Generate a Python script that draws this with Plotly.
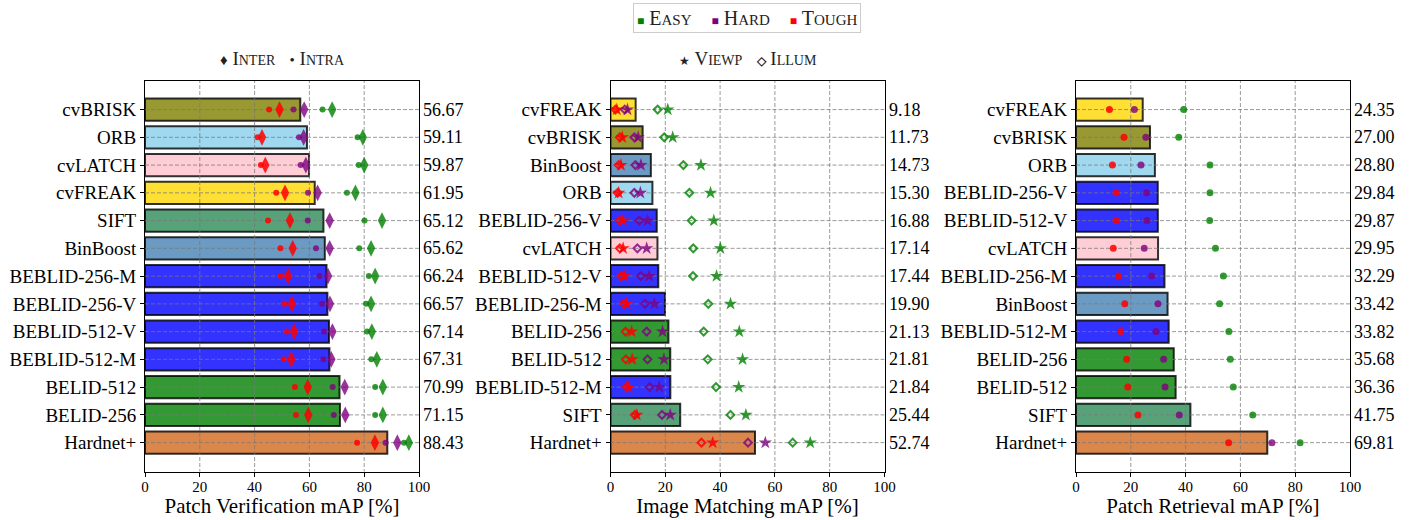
import plotly.graph_objects as go

FONT = "Liberation Serif"

# ---------------- Patch Verification (top to bottom) ----------------
pv_names = ["cvBRISK", "ORB", "cvLATCH", "cvFREAK", "SIFT", "BinBoost", "BEBLID-256-M",
            "BEBLID-256-V", "BEBLID-512-V", "BEBLID-512-M", "BELID-512", "BELID-256", "Hardnet+"]
pv_mean = [56.67, 59.11, 59.87, 61.95, 65.12, 65.62, 66.24, 66.57, 67.14, 67.31, 70.99, 71.15, 88.43]
pv_easy_inter = [68.3, 79.5, 80.0, 76.8, 86.5, 82.5, 84.0, 82.5, 82.8, 84.6, 86.8, 86.8, 96.3]
pv_easy_intra = [64.8, 77.6, 78.0, 73.7, 80.1, 78.2, 81.7, 80.7, 81.0, 82.6, 84.0, 84.0, 94.5]
pv_hard_inter = [58.1, 57.9, 58.7, 63.0, 67.4, 67.4, 66.8, 67.5, 68.4, 68.0, 72.9, 73.1, 92.1]
pv_hard_intra = [54.2, 56.2, 56.8, 59.5, 59.4, 62.4, 63.7, 64.6, 65.3, 65.1, 68.5, 68.9, 87.8]
pv_tough_inter = [49.1, 42.7, 43.9, 51.1, 52.9, 53.9, 52.2, 53.6, 54.4, 53.4, 59.4, 59.6, 83.9]
pv_tough_intra = [45.3, 41.1, 42.3, 47.9, 44.9, 49.4, 49.5, 50.8, 51.8, 50.6, 54.7, 55.1, 77.4]

# ---------------- Image Matching ----------------
im_names = ["cvFREAK", "cvBRISK", "BinBoost", "ORB", "BEBLID-256-V", "cvLATCH", "BEBLID-512-V",
            "BEBLID-256-M", "BELID-256", "BELID-512", "BEBLID-512-M", "SIFT", "Hardnet+"]
im_mean = [9.18, 11.73, 14.73, 15.30, 16.88, 17.14, 17.44, 19.90, 21.13, 21.81, 21.84, 25.44, 52.74]
im_easy_viewp = [20.9, 22.7, 33.0, 36.5, 37.7, 40.1, 38.7, 43.8, 47.0, 48.2, 46.8, 49.4, 72.9]
im_easy_illum = [17.2, 19.6, 26.6, 28.8, 29.6, 30.2, 30.1, 35.7, 34.0, 35.5, 38.5, 43.8, 66.5]
im_hard_viewp = [6.2, 10.1, 11.1, 10.9, 13.5, 13.2, 14.1, 16.0, 19.0, 19.5, 17.8, 21.8, 56.5]
im_hard_illum = [5.2, 8.7, 9.1, 8.7, 10.5, 9.8, 11.0, 12.6, 13.2, 13.5, 14.3, 18.8, 50.2]
im_tough_viewp = [2.3, 4.3, 3.8, 3.0, 4.6, 4.6, 5.0, 5.9, 7.7, 7.9, 6.7, 9.6, 37.3]
im_tough_illum = [1.8, 3.4, 3.0, 2.6, 3.4, 3.4, 4.0, 4.9, 5.5, 5.6, 5.9, 8.9, 33.2]

# ---------------- Patch Retrieval ----------------
pr_names = ["cvFREAK", "cvBRISK", "ORB", "BEBLID-256-V", "BEBLID-512-V", "cvLATCH", "BEBLID-256-M",
            "BinBoost", "BEBLID-512-M", "BELID-256", "BELID-512", "SIFT", "Hardnet+"]
pr_mean = [24.35, 27.00, 28.80, 29.84, 29.87, 29.95, 32.29, 33.42, 33.82, 35.68, 36.36, 41.75, 69.81]
pr_easy = [39.3, 37.5, 48.9, 48.9, 48.8, 50.9, 53.8, 52.4, 55.8, 56.3, 57.4, 64.5, 81.8]
pr_hard = [21.3, 25.5, 23.7, 25.8, 25.9, 24.9, 27.6, 29.9, 29.2, 32.0, 32.5, 37.7, 71.5]
pr_tough = [12.2, 17.5, 13.3, 14.6, 14.6, 13.6, 15.5, 17.8, 16.3, 18.5, 18.9, 22.6, 55.7]

x_ticks = [0, 20, 40, 60, 80, 100]

# ---------------- styles ----------------
desc_color = {
    "cvBRISK": "rgba(128,128,0,0.8)",
    "ORB": "rgba(135,206,235,0.8)",
    "cvLATCH": "rgba(255,192,203,0.8)",
    "cvFREAK": "rgba(255,215,0,0.8)",
    "SIFT": "rgba(46,139,87,0.8)",
    "BinBoost": "rgba(70,130,180,0.8)",
    "BEBLID-256-M": "rgba(0,0,255,0.8)",
    "BEBLID-256-V": "rgba(0,0,255,0.8)",
    "BEBLID-512-V": "rgba(0,0,255,0.8)",
    "BEBLID-512-M": "rgba(0,0,255,0.8)",
    "BELID-512": "rgba(0,128,0,0.8)",
    "BELID-256": "rgba(0,128,0,0.8)",
    "Hardnet+": "rgba(210,105,30,0.8)",
}
C_EASY = "rgba(0,128,0,0.8)"
C_HARD = "rgba(128,0,128,0.8)"
C_TOUGH = "rgba(255,0,0,0.85)"
GRID = "rgba(120,120,120,0.75)"
DASH = "4px,2px"

W, H = 1413, 520
y_top, y_bot = 1 - 80.7 / H, 1 - 471.5 / H
domains = [(145 / W, 419 / W), (610.5 / W, 884.5 / W), (1076 / W, 1350 / W)]
titles = ["Patch Verification mAP [%]", "Image Matching mAP [%]", "Patch Retrieval mAP [%]"]

fig = go.Figure()


def add_panel(k, names, means, marker_sets):
    xa = "x" if k == 1 else f"x{k}"
    ya = "y" if k == 1 else f"y{k}"
    n = len(names)
    pos = list(range(n))
    # bars
    fig.add_trace(go.Bar(
        x=means, y=pos, orientation="h", width=0.8,
        marker=dict(color=[desc_color[nm] for nm in names],
                    line=dict(color="rgba(0,0,0,0.8)", width=2)),
        xaxis=xa, yaxis=ya, showlegend=False, hoverinfo="skip"))
    # grid lines above bars (below markers)
    gx, gy = [], []
    for p in pos:
        gx += [0, 100, None]
        gy += [p, p, None]
    for t in x_ticks[1:-1]:
        gx += [t, t, None]
        gy += [-1.1, n + 0.1, None]
    fig.add_trace(go.Scatter(x=gx, y=gy, mode="lines",
                             line=dict(color=GRID, width=1, dash=DASH),
                             xaxis=xa, yaxis=ya, showlegend=False, hoverinfo="skip"))
    # markers
    for vals, color, symbol, size, lw in marker_sets:
        if symbol.endswith("-open"):
            mk = dict(symbol=symbol, size=size, color=color, line=dict(color=color, width=lw))
        else:
            mk = dict(symbol=symbol, size=size, color=color, line=dict(width=0))
        fig.add_trace(go.Scatter(x=vals, y=pos, mode="markers", marker=mk,
                                 xaxis=xa, yaxis=ya, showlegend=False, hoverinfo="skip"))
    # value labels
    for p, v in zip(pos, means):
        fig.add_annotation(x=1.008, xref=f"{xa} domain", y=p, yref=ya, text=f"{v:.2f}",
                           showarrow=False, xanchor="left", yanchor="middle",
                           font=dict(family=FONT, size=18, color="black"))
    d = domains[k - 1]
    common = dict(showline=True, mirror=True, linecolor="black", linewidth=1,
                  ticks="outside", ticklen=4, tickcolor="black", showgrid=False,
                  zeroline=False, automargin=False)
    fig.update_layout(**{
        ("xaxis" if k == 1 else f"xaxis{k}"): dict(
            domain=list(d), anchor=ya, range=[0, 100], tickvals=x_ticks,
            tickfont=dict(family=FONT, size=15, color="black"),
            ticklabelstandoff=-3,
            title=dict(text=titles[k - 1], font=dict(family=FONT, size=21, color="black"),
                       standoff=4),
            **common),
        ("yaxis" if k == 1 else f"yaxis{k}"): dict(
            domain=[y_bot, y_top], anchor=xa, range=[n - 1 + 1.04, -1.04],
            tickvals=pos, ticktext=names,
            tickfont=dict(family=FONT, size=19, color="black"),
            **common),
    })


add_panel(1, pv_names, pv_mean, [
    (pv_tough_intra, C_TOUGH, "circle", 6, 0),
    (pv_tough_inter, C_TOUGH, "diamond-tall", 12, 0),
    (pv_hard_intra, C_HARD, "circle", 6, 0),
    (pv_hard_inter, C_HARD, "diamond-tall", 12, 0),
    (pv_easy_intra, C_EASY, "circle", 6, 0),
    (pv_easy_inter, C_EASY, "diamond-tall", 12, 0),
])
add_panel(2, im_names, im_mean, [
    (im_tough_illum, C_TOUGH, "diamond-open", 6, 2),
    (im_tough_viewp, C_TOUGH, "star", 10, 0),
    (im_hard_illum, C_HARD, "diamond-open", 6, 2),
    (im_hard_viewp, C_HARD, "star", 10, 0),
    (im_easy_illum, C_EASY, "diamond-open", 6, 2),
    (im_easy_viewp, C_EASY, "star", 10, 0),
])
add_panel(3, pr_names, pr_mean, [
    (pr_tough, C_TOUGH, "circle", 7, 0),
    (pr_hard, C_HARD, "circle", 7, 0),
    (pr_easy, C_EASY, "circle", 7, 0),
])


def sc(word, small=14):
    return f"{word[0]}<span style='font-size:{small}px'>{word[1:].upper()}</span>"


# top legend
sq = "<span style='font-size:12px;color:{}'>■</span>"
top_text = (f"{sq.format('green')} {sc('Easy', 15)}    "
            f"{sq.format('purple')} {sc('Hard', 15)}    "
            f"{sq.format('red')} {sc('Tough', 15)}")
fig.add_annotation(x=(633 + 861) / 2 / W, y=1 - 18 / H, xref="paper", yref="paper",
                   text=top_text, showarrow=False, xanchor="center", yanchor="middle",
                   font=dict(family=FONT, size=20, color="#222"),
                   bordercolor="#cccccc", borderwidth=1, borderpad=3, bgcolor="white")
# panel legends
fig.add_annotation(x=(sum(domains[0]) / 2), y=1 - 58 / H, xref="paper", yref="paper",
                   text=f"<span style='font-size:15px'>♦</span> {sc('Inter')}   "
                        f"<span style='font-size:15px'>•</span> {sc('Intra')}",
                   showarrow=False, xanchor="center", yanchor="middle",
                   font=dict(family=FONT, size=19, color="#222"))
fig.add_annotation(x=(sum(domains[1]) / 2), y=1 - 58 / H, xref="paper", yref="paper",
                   text=f"<span style='font-size:12px'>★</span> {sc('Viewp')}   "
                        f"<span style='font-size:12px'><b>◇</b></span> {sc('Illum')}",
                   showarrow=False, xanchor="center", yanchor="middle",
                   font=dict(family=FONT, size=19, color="#222"))

fig.update_layout(
    width=W, height=H,
    margin=dict(l=0, r=0, t=0, b=0, autoexpand=False),
    paper_bgcolor="white", plot_bgcolor="white",
    barmode="overlay", showlegend=False,
    font=dict(family=FONT, color="black"),
)

fig.write_html("out.html", config={"displayModeBar": False},
               post_script="document.body.style.margin='0px';")
